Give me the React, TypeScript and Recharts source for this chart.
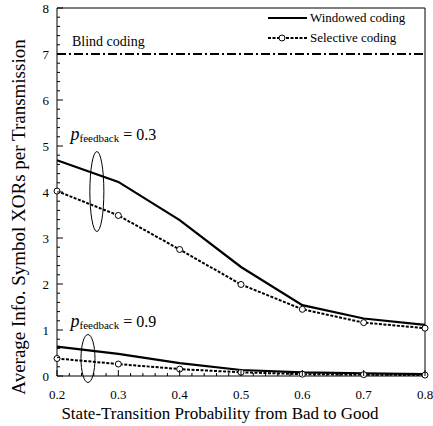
import React from 'react';
import {
  LineChart,
  Line,
  XAxis,
  YAxis,
  ReferenceLine,
  ReferenceDot,
} from 'recharts';

// values
const transitionProb = [0.2, 0.3, 0.4, 0.5, 0.6, 0.7, 0.8];
const windowedP03 = [4.69, 4.22, 3.39, 2.37, 1.54, 1.25, 1.11];
const selectiveP03 = [4.02, 3.49, 2.75, 1.99, 1.45, 1.16, 1.04];
const windowedP09 = [0.64, 0.48, 0.28, 0.13, 0.08, 0.06, 0.04];
const selectiveP09 = [0.38, 0.26, 0.15, 0.08, 0.04, 0.03, 0.02];
const blindCoding = 7;

const seriesNames = ['Windowed coding', 'Selective coding'];
const xMajorTicks = [0.2, 0.3, 0.4, 0.5, 0.6, 0.7, 0.8];
const yMajorTicks = [0, 1, 2, 3, 4, 5, 6, 7, 8];
const xMinorPerMajor = 5;
const yMinorPerMajor = 5;

const withMinor = (majors: number[], n: number) => {
  const out: number[] = [];
  majors.forEach((v, i) => {
    out.push(v);
    if (i < majors.length - 1) {
      const step = (majors[i + 1] - v) / n;
      for (let k = 1; k < n; k++) out.push(+(v + k * step).toFixed(4));
    }
  });
  return out;
};
const xTicks = withMinor(xMajorTicks, xMinorPerMajor);
const yTicks = withMinor(yMajorTicks, yMinorPerMajor);

const data = transitionProb.map((x, i) => ({
  x,
  w3: windowedP03[i],
  s3: selectiveP03[i],
  w9: windowedP09[i],
  s9: selectiveP09[i],
}));

const FONT = '"Liberation Serif", "Times New Roman", "DejaVu Serif", serif';
const MAJOR_LEN = 6;
const MINOR_LEN = 3;
const X_MARGIN = 9;
const Y_MARGIN = 8;
const DASH = '3 1.5';

const isMajor = (v: number, majors: number[]) =>
  majors.some((m) => Math.abs(m - v) < 1e-6);

const BottomTick = (props: any) => {
  const { x, y, payload } = props;
  const v = payload.value;
  const major = isMajor(v, xMajorTicks);
  const base = y - X_MARGIN;
  return (
    <g>
      <line x1={x} x2={x} y1={base} y2={base - (major ? MAJOR_LEN : MINOR_LEN)} stroke="#000" />
      {major && (
        <text x={x} y={y + 5} dy="0.71em" textAnchor="middle" style={{ fontFamily: FONT }} fontSize={13} fill="#000">
          {v.toFixed(1)}
        </text>
      )}
    </g>
  );
};

const LeftTick = (props: any) => {
  const { x, y, payload } = props;
  const v = payload.value;
  const major = isMajor(v, yMajorTicks);
  const base = x + Y_MARGIN;
  return (
    <g>
      <line x1={base} x2={base + (major ? MAJOR_LEN : MINOR_LEN)} y1={y} y2={y} stroke="#000" />
      {major && (
        <text x={x} y={y} dy="0.36em" textAnchor="end" style={{ fontFamily: FONT }} fontSize={13} fill="#000">
          {v}
        </text>
      )}
    </g>
  );
};

const RightTick = (props: any) => {
  const { x, y, payload } = props;
  const major = isMajor(payload.value, yMajorTicks);
  return <line x1={x - (major ? MAJOR_LEN : MINOR_LEN)} x2={x} y1={y} y2={y} stroke="#000" />;
};

function LegendBox() {
  return (
    <div
      style={{
        position: 'absolute',
        left: 268,
        top: 8,
        fontFamily: FONT,
        fontSize: 13,
        color: '#000',
      }}
    >
      {seriesNames.map((name, i) => {
        const dashed = i === 1;
        return (
          <div key={name} style={{ display: 'flex', alignItems: 'center', height: 20 }}>
            <svg width={40} height={10} style={{ display: 'block' }}>
              <line x1={0} x2={39} y1={5} y2={5} stroke="#000" strokeWidth={2} strokeDasharray={dashed ? DASH : undefined} />
              {dashed && <circle cx={14} cy={5} r={3} fill="#fff" stroke="#000" strokeWidth={1} />}
            </svg>
            <span style={{ marginLeft: 2, whiteSpace: 'nowrap' }}>{name}</span>
          </div>
        );
      })}
    </div>
  );
}

const feedbackLabel = (value: string) => (p: any) => (
  <text x={p.cx} y={p.cy} style={{ fontFamily: FONT }} fill="#000">
    <tspan fontStyle="italic" fontSize={18}>p</tspan>
    <tspan fontSize={11} dy={2}>feedback</tspan>
    <tspan fontSize={16} dy={-2}>{' = ' + value}</tspan>
  </text>
);

const ellipse = (rx: number, ry: number) => (p: any) => (
  <ellipse cx={p.cx} cy={p.cy} rx={rx} ry={ry} fill="none" stroke="#000" strokeWidth={1} />
);

export default function App() {
  return (
    <div style={{ position: 'absolute', left: 0, top: 0, width: 433, height: 426, background: '#fff' }}>
      <LineChart width={433} height={426} data={data} margin={{ top: 8, right: 0, left: 0, bottom: 0 }}>
        <XAxis
          dataKey="x"
          type="number"
          domain={[0.2, 0.8]}
          ticks={xTicks}
          interval={0}
          height={50}
          tickSize={0}
          tickMargin={X_MARGIN}
          tickLine={false}
          tick={<BottomTick />}
          axisLine={{ stroke: '#000' }}
          label={(lp: any) => {
            const vb = lp.viewBox;
            return (
              <text x={vb.x + vb.width / 2 - 21} y={419} textAnchor="middle" style={{ fontFamily: FONT }} fontSize={17} fill="#000">
                State-Transition Probability from Bad to Good
              </text>
            );
          }}
        />
        <YAxis
          type="number"
          domain={[0, 8]}
          ticks={yTicks}
          interval={0}
          width={57}
          tickSize={0}
          tickMargin={Y_MARGIN}
          tickLine={false}
          tick={<LeftTick />}
          axisLine={{ stroke: '#000' }}
          label={(lp: any) => {
            const vb = lp.viewBox;
            const cy = vb.y + vb.height / 2 + 25;
            return (
              <text x={25} y={cy} transform={`rotate(-90, 25, ${cy})`} textAnchor="middle" style={{ fontFamily: FONT }} fontSize={19} fill="#000">
                Average Info. Symbol XORs per Transmission
              </text>
            );
          }}
        />
        <YAxis
          yAxisId="right"
          orientation="right"
          type="number"
          domain={[0, 8]}
          ticks={yTicks}
          interval={0}
          width={8}
          tickSize={0}
          tickMargin={0}
          tickLine={false}
          tick={<RightTick />}
          axisLine={{ stroke: '#000' }}
        />
        <ReferenceLine y={8} stroke="#000" strokeWidth={1} />
        <ReferenceLine
          y={blindCoding}
          stroke="#000"
          strokeWidth={2}
          strokeDasharray="9 3 2 3"
          label={(lp: any) => (
            <text x={lp.viewBox.x + 15} y={lp.viewBox.y - 8} style={{ fontFamily: FONT }} fontSize={14} fill="#000">
              Blind coding
            </text>
          )}
        />
        <Line
          name={seriesNames[0]}
          dataKey="w3"
          type="linear"
          stroke="#000"
          strokeWidth={2.2}
          dot={false}
          isAnimationActive={false}
        />
        <Line
          name={seriesNames[1]}
          dataKey="s3"
          type="linear"
          stroke="#000"
          strokeWidth={2}
          strokeDasharray={DASH}
          dot={{ r: 3, fill: '#fff', stroke: '#000', strokeWidth: 1, strokeDasharray: '' }}
          isAnimationActive={false}
        />
        <Line
          dataKey="w9"
          type="linear"
          stroke="#000"
          strokeWidth={2.2}
          dot={false}
          isAnimationActive={false}
        />
        <Line
          dataKey="s9"
          type="linear"
          stroke="#000"
          strokeWidth={2}
          strokeDasharray={DASH}
          dot={{ r: 3, fill: '#fff', stroke: '#000', strokeWidth: 1, strokeDasharray: '' }}
          isAnimationActive={false}
        />
        <ReferenceDot x={0.265} y={4.01} shape={ellipse(7, 40)} />
        <ReferenceDot x={0.222} y={5.13} shape={feedbackLabel('0.3')} />
        <ReferenceDot x={0.2505} y={0.38} shape={ellipse(7, 24)} />
        <ReferenceDot x={0.222} y={1.065} shape={feedbackLabel('0.9')} />
      </LineChart>
      <LegendBox />
    </div>
  );
}
